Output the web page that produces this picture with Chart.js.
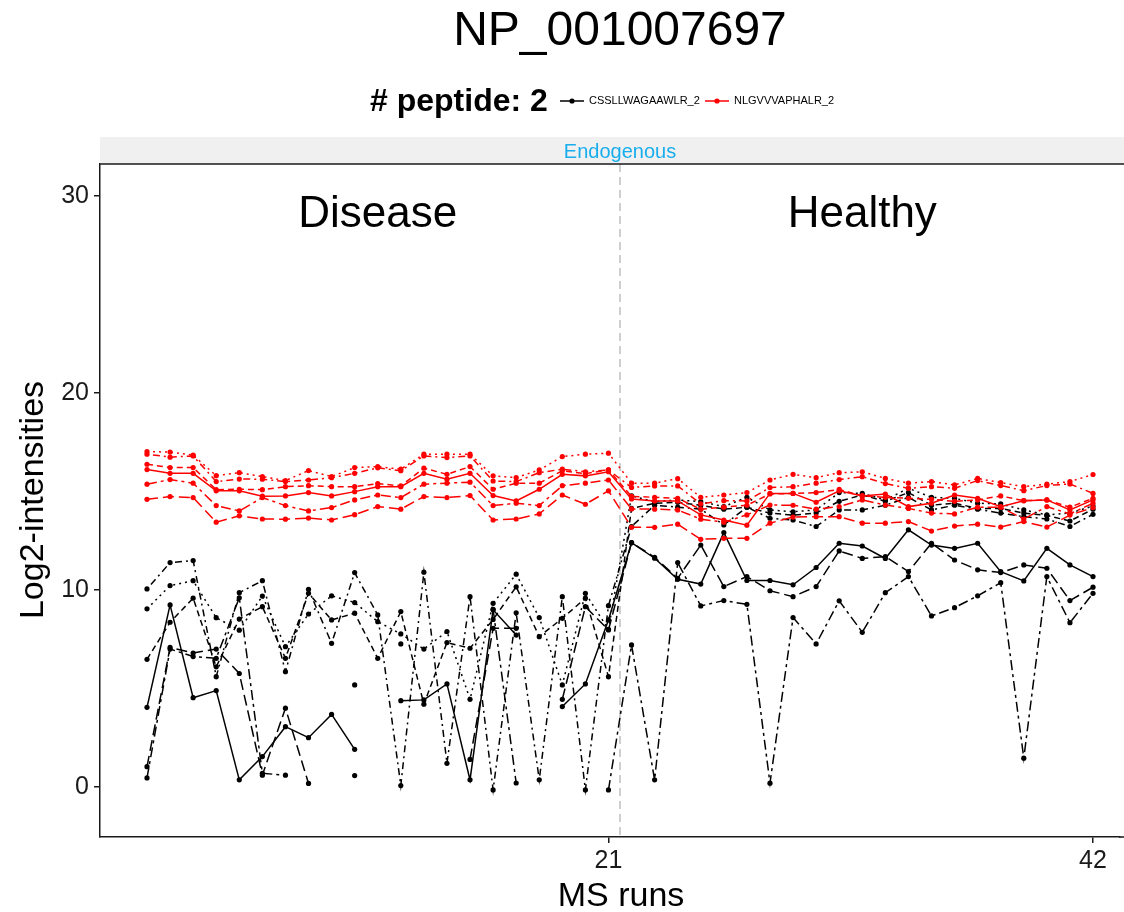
<!DOCTYPE html>
<html>
<head>
<meta charset="utf-8">
<script src="https://cdn.jsdelivr.net/npm/chart.js@4.4.1/dist/chart.umd.min.js"></script>
<style>
  html, body { margin: 0; padding: 0; background: #fff; }
  canvas { display: block; }
</style>
</head>
<body>
<canvas id="profile" width="1124" height="912" style="width:1124px;height:912px"></canvas>
<script>
// MS runs 1..42 (Disease 1-21, Healthy 22-42)
const runs = [1, 2, 3, 4, 5, 6, 7, 8, 9, 10, 11, 12, 13, 14, 15, 16, 17, 18, 19, 20, 21,
  22, 23, 24, 25, 26, 27, 28, 29, 30, 31, 32, 33, 34, 35, 36, 37, 38, 39, 40, 41, 42];
const yTicks = [0, 10, 20, 30];
const xTicks = [21, 42];
const groups = ['Disease', 'Healthy'];
const peptides = ['CSSLLWAGAAWLR_2', 'NLGVVVAPHALR_2'];
const proteinName = 'NP_001007697';
const labelName = 'Endogenous';

// CSSLLWAGAAWLR_2 transitions (log2 intensities, null = missing)
const cssSolid = [4.04, 9.24, 4.53, 4.89, 0.36, 1.54, 3.06, 2.5, 3.68, 1.91, null, 4.38, 4.42, 5.23, 0.36, 8.99, 7.71, null, 4.08, 5.23, 8.48,
  12.4, 11.61, 10.54, 10.3, 12.91, 10.48, 10.48, 10.26, 11.14, 12.37, 12.23, 11.6, 13.05, 12.28, 12.11, 12.37, 10.93, 10.46, 12.11, 11.27, 10.68];
const cssDotted = [9.04, 10.22, 10.47, 8.59, 7.96, 9.69, 7.12, 8.78, 9.7, 9.36, 8.39, 7.77, 7.0, 7.89, 4.45, 9.32, 10.8, 8.6, 5.18, 9.83, 8.0,
  14.77, 14.48, 14.57, 14.48, 14.23, 14.7, 14.06, 13.97, 14.06, 14.94, 14.9, 14.57, 15.16, 14.7, 14.65, 14.4, 14.37, 14.06, 13.81, 13.9, 14.26];
const cssDashed = [6.48, 8.36, 9.58, 6.1, 8.52, 9.15, 6.53, 9.83, 8.48, 8.82, 6.53, 8.9, 4.2, 7.33, 7.04, 8.5, 10.16, 7.63, 8.56, 9.58, 5.6,
  14.14, 14.4, 14.45, 14.3, 14.1, 14.2, 13.9, 13.8, 13.9, 14.5, 14.82, 14.5, 14.94, 14.3, 14.4, 14.14, 14.14, 13.9, 13.78, 13.5, 14.1];
const cssDotDash = [10.05, 11.39, 11.49, 5.6, 9.86, 10.47, 5.85, 10.03, 7.29, 10.88, 8.73, 0.07, 10.9, 1.2, 9.66, -0.15, 8.84, 0.36, 9.66, -0.15, 9.2,
  13.22, 14.3, 14.2, 14.1, 13.3, 14.2, 13.64, 13.55, 13.22, 14.06, 14.06, 14.3, 14.7, 14.06, 14.3, 14.1, 13.9, 13.72, 13.6, 13.22, 13.84];
const cssLongDash = [1.03, 7.08, 6.8, 7.0, 5.76, 0.6, 4.0, 0.18, null, 5.18, null, 7.26, null, null, 1.4, 8.05, 8.05, null, 4.45, 9.15, 7.97,
  12.4, 11.66, 10.59, 12.28, 10.17, 10.68, 9.96, 9.66, 10.17, 11.98, 11.6, 11.69, 10.93, 12.37, 11.52, 11.02, 10.88, 11.27, 11.1, 9.46, 10.14];
const cssTwoDash = [0.46, 7.0, 6.62, 6.53, 9.6, 0.69, 0.6, null, null, 0.58, null, null, null, null, null, 9.02, 0.2, null, null, null, -0.15,
  7.21, 0.36, 11.39, 9.19, 9.46, 9.27, 0.19, 8.6, 7.26, 9.45, 7.85, 9.86, 10.68, 8.68, 9.1, 9.7, 10.37, 1.46, 10.68, 8.34, 9.83];

// NLGVVVAPHALR_2 transitions
const nlgDotted = [17.02, 17.0, 16.84, 15.8, 15.95, 15.75, 15.55, 16.06, 15.75, 16.21, 16.26, 16.13, 16.89, 16.89, 16.89, 15.79, 15.7, 16.09, 16.77, 16.89, 16.94,
  15.42, 15.42, 15.65, 14.7, 14.82, 14.94, 15.58, 15.87, 15.7, 15.95, 16.0, 15.66, 15.42, 15.5, 15.33, 15.66, 15.45, 15.24, 15.37, 15.5, 15.86];
const nlgDotDash = [16.89, 16.74, 16.8, 15.5, 15.63, 15.62, 15.5, 15.58, 15.7, 15.92, 16.2, 16.05, 16.8, 16.72, 16.8, 15.53, 15.5, 15.95, 16.13, 16.0, 16.09,
  15.2, 15.28, 15.28, 14.37, 14.53, 14.52, 15.2, 15.24, 15.42, 15.6, 15.75, 15.4, 15.16, 15.24, 15.16, 15.55, 15.3, 15.04, 15.3, 15.38, 14.9];
const nlgDashed = [16.38, 16.21, 16.21, 15.09, 15.11, 15.09, 15.24, 15.29, 15.24, 15.24, 15.4, 15.28, 16.18, 15.87, 16.26, 15.11, 15.42, 15.42, 16.05, 15.9, 16.1,
  14.75, 14.7, 14.65, 14.1, 14.2, 14.3, 14.87, 14.9, 14.94, 15.1, 14.77, 14.7, 14.65, 14.6, 14.5, 14.57, 14.77, 14.53, 14.57, 14.2, 14.65];
const nlgSolid = [16.11, 15.92, 15.92, 15.03, 15.03, 14.76, 14.77, 14.94, 14.77, 14.99, 15.24, 15.24, 15.92, 15.62, 15.92, 14.79, 14.52, 15.11, 15.87, 15.79, 16.0,
  14.62, 14.52, 14.52, 13.81, 13.55, 13.29, 14.9, 14.9, 14.45, 15.03, 14.77, 14.87, 14.23, 14.4, 14.82, 14.65, 14.23, 14.53, 14.57, 14.06, 14.57];
const nlgTwoDash = [15.37, 15.6, 15.42, 14.28, 14.01, 14.69, 14.28, 14.01, 14.18, 14.57, 14.82, 14.69, 15.37, 15.42, 15.47, 14.28, 14.4, 14.28, 15.29, 15.42, 15.58,
  14.11, 14.1, 14.06, 13.59, 13.44, 13.81, 14.31, 14.3, 14.1, 14.23, 14.57, 14.31, 14.14, 13.9, 13.86, 14.2, 14.2, 13.6, 14.23, 13.86, 14.4];
const nlgLongDash = [14.6, 14.74, 14.69, 13.44, 13.76, 13.6, 13.59, 13.65, 13.55, 13.82, 14.23, 14.1, 14.74, 14.69, 14.79, 13.55, 13.6, 13.86, 14.82, 14.35, 15.03,
  13.18, 13.18, 13.34, 12.57, 12.62, 12.62, 13.39, 13.7, 13.72, 13.72, 13.39, 13.39, 13.47, 12.99, 13.24, 13.34, 13.19, 13.47, 13.19, 13.8, 14.18];

const FONT = '"Liberation Sans", Arial, Helvetica, sans-serif';
const BLACK = '#000000';
const RED = '#ff0000';

// dash patterns standing in for ggplot linetypes
const DASH = {
  solid: [],
  dotted: [2, 4],
  dashed: [6, 4],
  dotdash: [2, 4, 7, 4],
  longdash: [11, 5],
  twodash: [10, 4, 3, 4]
};

function serie(values, color, dash, order) {
  return {
    data: runs.map((r, i) => ({ x: r, y: values[i] })),
    borderColor: color,
    backgroundColor: color,
    borderWidth: 1.5,
    borderDash: DASH[dash],
    pointRadius: 2.6,
    pointBorderWidth: 0,
    pointBackgroundColor: color,
    spanGaps: false,
    tension: 0,
    order: order
  };
}

const datasets = [
  serie(cssSolid, BLACK, 'solid', 12),
  serie(cssDotted, BLACK, 'dotted', 11),
  serie(cssDashed, BLACK, 'dashed', 10),
  serie(cssDotDash, BLACK, 'dotdash', 9),
  serie(cssLongDash, BLACK, 'longdash', 8),
  serie(cssTwoDash, BLACK, 'twodash', 7),
  serie(nlgDotted, RED, 'dotted', 6),
  serie(nlgDotDash, RED, 'dotdash', 5),
  serie(nlgDashed, RED, 'dashed', 4),
  serie(nlgSolid, RED, 'solid', 3),
  serie(nlgTwoDash, RED, 'twodash', 2),
  serie(nlgLongDash, RED, 'longdash', 1)
];

// strip, titles, group labels, legend and the Disease/Healthy divider
const decorations = {
  id: 'decorations',
  beforeDraw(chart) {
    const ctx = chart.ctx;
    ctx.save();
    ctx.fillStyle = '#ffffff';
    ctx.fillRect(0, 0, chart.width, chart.height);
    ctx.restore();
  },
  beforeDatasetsDraw(chart) {
    const { ctx, chartArea, scales } = chart;
    const xs = scales.x.getPixelForValue(21.5);
    ctx.save();
    ctx.strokeStyle = '#c0c0c0';
    ctx.lineWidth = 1.5;
    ctx.setLineDash([8, 5]);
    ctx.beginPath();
    ctx.moveTo(xs, chartArea.top);
    ctx.lineTo(xs, chartArea.bottom);
    ctx.stroke();
    ctx.restore();
  },
  afterDraw(chart) {
    const { ctx, chartArea, scales } = chart;
    ctx.save();

    // facet strip, running on to the right edge
    ctx.fillStyle = '#f0f0f0';
    ctx.fillRect(chartArea.left, 137, chart.width - chartArea.left, chartArea.top - 137);
    ctx.strokeStyle = '#1a1a1a';
    ctx.lineWidth = 1.5;
    ctx.beginPath();
    ctx.moveTo(chartArea.left, chartArea.top);
    ctx.lineTo(chart.width, chartArea.top);
    ctx.moveTo(chartArea.right - 1, chartArea.bottom);
    ctx.lineTo(chart.width, chartArea.bottom);
    ctx.stroke();
    ctx.fillStyle = '#18aeee';
    ctx.font = '20px ' + FONT;
    ctx.textAlign = 'center';
    ctx.textBaseline = 'middle';
    ctx.fillText(labelName, 620, 152);

    // group labels
    ctx.fillStyle = '#000';
    ctx.font = '44px ' + FONT;
    ctx.fillText(groups[0], scales.x.getPixelForValue(11), scales.y.getPixelForValue(29.05));
    ctx.fillText(groups[1], scales.x.getPixelForValue(32), scales.y.getPixelForValue(29.05));

    // main title
    ctx.font = '48px ' + FONT;
    ctx.fillText(proteinName, 620, 32);

    // axis titles
    ctx.font = '34px ' + FONT;
    ctx.fillText('MS runs', 621, 897);
    ctx.save();
    ctx.translate(34, 500);
    ctx.rotate(-Math.PI / 2);
    ctx.fillText('Log2-intensities', 0, 0);
    ctx.restore();

    // legend
    ctx.textAlign = 'left';
    ctx.font = 'bold 32px ' + FONT;
    ctx.fillText('# peptide: ' + peptides.length, 370, 102);
    const keys = [[560, BLACK], [705, RED]];
    ctx.font = '11px ' + FONT;
    keys.forEach(([x0, col], i) => {
      ctx.strokeStyle = col;
      ctx.fillStyle = col;
      ctx.lineWidth = 1.5;
      ctx.beginPath();
      ctx.moveTo(x0, 101);
      ctx.lineTo(x0 + 24, 101);
      ctx.stroke();
      ctx.beginPath();
      ctx.arc(x0 + 12, 101, 2.6, 0, Math.PI * 2);
      ctx.fill();
      ctx.fillStyle = '#000';
      ctx.fillText(peptides[i], x0 + 29, 101);
    });
    ctx.restore();
  }
};

new Chart(document.getElementById('profile'), {
  type: 'line',
  data: { datasets: datasets },
  options: {
    responsive: false,
    animation: false,
    devicePixelRatio: 1,
    layout: { padding: { top: 164, left: 0, right: 0, bottom: 0 } },
    plugins: {
      legend: { display: false },
      tooltip: { enabled: false },
      title: { display: false }
    },
    scales: {
      x: {
        type: 'linear',
        min: -1.037,
        max: 43.17,
        afterFit(scale) { scale.height = 75; },
        afterBuildTicks(scale) { scale.ticks = xTicks.map(v => ({ value: v })); },
        grid: { drawOnChartArea: false, drawTicks: true, tickLength: 6, color: '#1a1a1a', lineWidth: 1.5 },
        border: { display: true, color: '#1a1a1a', width: 1.5 },
        ticks: { color: '#1a1a1a', font: { size: 25, family: FONT }, padding: 3, maxRotation: 0 }
      },
      y: {
        type: 'linear',
        min: -2.54,
        max: 31.62,
        afterFit(scale) { scale.width = 100; },
        afterBuildTicks(scale) { scale.ticks = yTicks.map(v => ({ value: v })); },
        grid: { drawOnChartArea: false, drawTicks: true, tickLength: 6, color: '#1a1a1a', lineWidth: 1.5 },
        border: { display: true, color: '#1a1a1a', width: 1.5 },
        ticks: { color: '#1a1a1a', font: { size: 25, family: FONT }, padding: 5 }
      }
    }
  },
  plugins: [decorations]
});
</script>
</body>
</html>
